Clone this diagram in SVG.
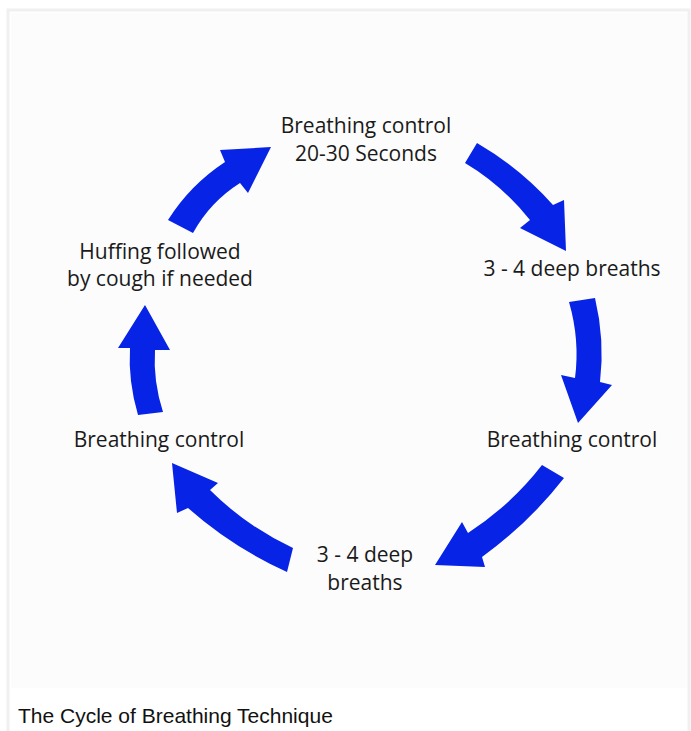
<svg xmlns="http://www.w3.org/2000/svg" width="691" height="731" viewBox="0 0 691 731">
<style>
.lbl{font-family:"Open Sans","Noto Sans",sans-serif;font-size:21px;fill:#1a1a1a;text-anchor:middle}
.arr{fill:#0623e6}
.cap{font-family:"Liberation Sans",Arial,sans-serif;font-size:21px;fill:#111}
</style>
<rect x="0" y="0" width="691" height="731" fill="#ffffff"/>
<rect x="8" y="10" width="681" height="730" fill="#ffffff" stroke="#f0f0f0" stroke-width="3"/>
<rect x="11" y="13" width="676" height="675" fill="#fcfcfc"/>
<g id="connectors">
<path class="arr" d="M168,220 Q190,185 225,162 L220,150 L271,147 L248,193 L240,183 Q210,202 193,233 Z"/>
<path class="arr" d="M477,143 Q520,168 553,205 L564,200 L566,251 L520,228 L530,220 Q502,185 465,163 Z"/>
<path class="arr" d="M595,298 Q605,340 600,382 L612,385 L578,423 L561,375 L575,378 Q580,340 569,302 Z"/>
<path class="arr" d="M564,478 Q529,523 482,557 L485,567 L435,565 L462,522 L468,533 Q511,505 542,465 Z"/>
<path class="arr" d="M287,572 Q232,547 188,508 L177,513 L172,463 L218,483 L210,490 Q246,526 293,548 Z"/>
<path class="arr" d="M138,415 Q128,381 130,348 L118,348 L145,305 L170,350 L155,350 Q153,381 163,412 Z"/>
</g>
<g id="n1"><text class="lbl" x="366" y="133">Breathing control</text><text class="lbl" x="366" y="161">20-30 Seconds</text></g>
<g id="n2"><text class="lbl" x="572" y="276">3 - 4 deep breaths</text></g>
<g id="n3"><text class="lbl" x="572" y="447">Breathing control</text></g>
<g id="n4"><text class="lbl" x="365" y="562">3 - 4 deep</text><text class="lbl" x="365" y="590">breaths</text></g>
<g id="n5"><text class="lbl" x="159" y="447">Breathing control</text></g>
<g id="n6"><text class="lbl" x="160" y="259">Huffing followed</text><text class="lbl" x="160" y="286">by cough if needed</text></g>
<text class="cap" x="18" y="723">The Cycle of Breathing Technique</text>
</svg>
